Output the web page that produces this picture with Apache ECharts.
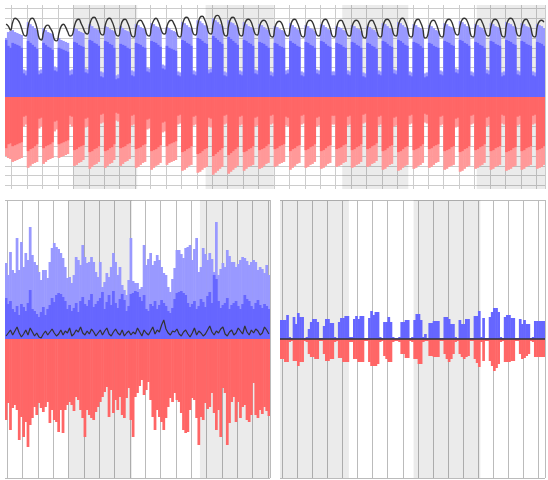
<!DOCTYPE html>
<html><head><meta charset="utf-8">
<script src="https://cdn.jsdelivr.net/npm/echarts@6/dist/echarts.min.js"></script>
<style>html,body{margin:0;padding:0;background:#fff}#c{width:548px;height:480px}</style>
</head><body><div id="c"></div>
<script>
// ---------- TOP PANEL (daily, 245 days; rows = Fri,Sat,Sun,Mon,Tue,Wed,Thu) ----------
const topBlue = [
58,52,50,55,54,53,52, 50,24,22,57,55,53,51, 49,23,24,55,53,51,50, 48,27,26,50,49,48,47,
46,22,23,56,55,53,52, 51,25,24,58,57,55,54, 52,21,20,57,56,54,53, 50,18,19,54,53,52,50,
49,22,21,55,54,53,51, 50,26,25,57,56,55,53, 51,29,28,52,50,49,48, 47,22,21,58,57,55,54,
52,23,22,60,59,57,55, 54,24,25,62,60,58,56, 54,22,21,61,59,57,55, 53,23,22,58,57,55,54,
52,24,23,56,55,54,52, 50,22,21,55,54,52,51, 50,23,24,57,55,54,52, 51,22,21,56,55,53,52,
50,24,23,57,56,54,52, 51,22,22,55,54,53,51, 50,23,22,56,55,53,52, 50,21,20,55,54,52,51,
49,23,22,57,56,54,52, 51,24,23,58,57,55,53, 52,22,21,56,55,54,52, 50,20,21,55,54,52,51,
50,23,22,57,56,55,53, 52,25,24,58,57,55,54, 52,22,21,56,55,53,52, 50,24,23,57,56,54,53,
52,21,22,58,57,56,54, 53,23,22,57,56,54,53, 52,22,21,56,55,54,52];
const topBlueLight = [
60,66,67,68,66,65,64, 63,28,27,76,74,72,70, 68,27,28,70,68,66,65, 64,31,30,60,58,57,56,
55,27,28,70,69,67,66, 65,29,28,74,72,70,69, 68,26,25,72,71,69,68, 67,22,23,72,70,68,67,
66,27,26,74,73,71,70, 69,30,29,75,74,72,71, 69,33,32,71,70,68,67, 66,26,25,76,75,73,71,
70,27,26,78,77,75,73, 72,28,29,80,78,76,74, 72,26,25,78,76,75,73, 71,27,26,76,74,72,71,
70,28,27,74,73,71,69, 68,26,25,72,71,69,68, 67,27,28,75,73,71,69, 68,26,25,73,72,70,69,
67,28,27,74,73,71,69, 68,26,26,72,71,70,68, 67,27,26,73,72,70,69, 67,25,24,72,71,69,68,
66,27,26,75,74,72,70, 69,28,27,76,75,73,71, 70,26,25,74,73,71,70, 68,24,25,73,72,70,68,
67,27,26,75,74,72,71, 70,29,28,77,76,74,72, 71,26,25,74,73,71,70, 68,28,27,75,74,72,71,
70,25,26,76,75,74,72, 71,27,26,75,74,72,71, 70,26,25,74,73,72,70];
const topRed = [
-52,-48,-47,-50,-49,-48,-47, -46,-20,-19,-55,-53,-52,-50, -48,-22,-21,-52,-50,-49,-48, -46,-25,-24,-48,-47,-46,-45,
-44,-19,-20,-54,-53,-51,-50, -49,-22,-21,-56,-55,-53,-52, -50,-18,-17,-55,-54,-52,-51, -48,-16,-17,-52,-51,-50,-48,
-47,-19,-18,-53,-52,-51,-49, -48,-23,-22,-55,-54,-53,-51, -49,-26,-25,-50,-48,-47,-46, -45,-19,-18,-56,-55,-53,-52,
-50,-20,-19,-58,-57,-55,-53, -52,-21,-22,-60,-58,-56,-54, -52,-19,-18,-59,-57,-55,-53, -51,-20,-19,-56,-55,-53,-52,
-50,-21,-20,-54,-53,-52,-50, -48,-19,-18,-53,-52,-50,-49, -48,-20,-21,-55,-53,-52,-50, -49,-19,-18,-54,-53,-51,-50,
-48,-21,-20,-55,-54,-52,-50, -49,-19,-19,-53,-52,-51,-49, -48,-20,-19,-54,-53,-51,-50, -48,-18,-17,-53,-52,-50,-49,
-47,-20,-19,-55,-54,-52,-50, -49,-21,-20,-56,-55,-53,-51, -50,-19,-18,-54,-53,-52,-50, -48,-17,-18,-53,-52,-50,-49,
-48,-20,-19,-55,-54,-53,-51, -50,-22,-21,-56,-55,-53,-52, -50,-19,-18,-54,-53,-51,-50, -48,-21,-20,-55,-54,-52,-51,
-50,-18,-19,-56,-55,-54,-52, -51,-20,-19,-55,-54,-52,-51, -50,-19,-18,-54,-53,-52,-50];
const topRedLight = [
-60,-62,-63,-66,-65,-64,-63, -62,-30,-28,-72,-70,-68,-67, -66,-32,-30,-68,-66,-64,-63, -62,-35,-33,-62,-61,-60,-59,
-58,-28,-30,-70,-69,-67,-66, -64,-31,-30,-73,-71,-69,-68, -66,-27,-26,-72,-70,-68,-67, -64,-24,-25,-70,-68,-66,-65,
-63,-29,-28,-72,-71,-69,-67, -66,-33,-32,-74,-72,-70,-69, -67,-36,-35,-69,-67,-66,-65, -64,-28,-27,-75,-74,-72,-70,
-69,-29,-28,-77,-76,-74,-72, -71,-30,-31,-79,-77,-75,-73, -71,-28,-27,-78,-76,-74,-72, -70,-29,-28,-75,-73,-71,-70,
-69,-30,-29,-73,-72,-70,-68, -67,-28,-27,-71,-70,-68,-67, -66,-29,-30,-74,-72,-70,-68, -67,-28,-27,-72,-71,-69,-68,
-66,-30,-29,-73,-72,-70,-68, -67,-28,-28,-71,-70,-69,-67, -66,-29,-28,-72,-71,-69,-68, -66,-27,-26,-71,-70,-68,-67,
-65,-29,-28,-74,-73,-71,-69, -68,-30,-29,-75,-74,-72,-70, -69,-28,-27,-73,-72,-70,-69, -67,-26,-27,-72,-71,-69,-67,
-66,-29,-28,-74,-73,-71,-70, -69,-31,-30,-76,-75,-73,-71, -70,-28,-27,-73,-72,-70,-69, -67,-30,-29,-74,-73,-71,-70,
-69,-27,-28,-75,-74,-73,-71, -70,-29,-28,-74,-73,-71,-70, -69,-28,-27,-73,-72,-71,-69];
const topLine = [
74,72,68,76,80,79,76, 70,63,62,72,79,80,77, 70,60,58,66,72,73,70, 66,58,57,65,72,74,71,
66,62,63,72,78,79,75, 70,65,64,74,80,81,78, 72,64,63,73,79,80,77, 71,63,62,72,78,79,76,
70,62,61,71,77,78,75, 70,63,62,72,78,80,77, 71,65,64,72,77,78,75, 70,62,61,73,80,81,78,
72,64,63,74,81,82,79, 73,65,64,75,82,83,80, 73,63,62,73,80,81,78, 72,63,62,72,78,79,77,
71,64,63,72,77,78,76, 70,62,61,71,76,77,75, 69,63,62,72,78,79,76, 70,62,61,71,77,78,76,
70,63,62,72,78,79,76, 70,62,61,71,77,78,75, 69,63,62,72,77,78,76, 70,61,60,71,77,78,75,
69,62,61,72,78,79,77, 71,63,62,73,79,80,77, 71,62,61,72,78,79,76, 70,60,61,71,77,78,75,
69,62,61,72,78,79,77, 71,64,63,73,79,80,78, 72,62,61,72,78,79,76, 70,63,62,72,78,79,77,
71,62,61,73,79,80,78, 72,63,62,72,78,79,76, 71,62,61,72,77,78,76];
// shaded month bands, in day units from the panel start
const topBands = [[31, 60], [91, 122], [153, 183], [214, 245]];

// ---------- BOTTOM-LEFT PANEL (121 days) ----------
const blBlueLight = [
76,64,87,69,66,101,69,97,72,86, 79,112,84,77,74,67,59,69,69,61, 77,91,96,92,90,86,81,72,61,62,
56,64,82,79,74,94,82,76,77,82, 77,67,62,77,52,57,66,62,72,86, 77,64,72,54,49,44,59,
101,58,56,56,50,52,94,74,80,86, 74,78,84,79,72,66,64,52,47,60, 71,89,89,85,81,91,92,94,79,90,
101,67,72,91,85,79,86,80,67,117, 64,70,76,72,89,83,77,77,72,75, 79,82,81,78,74,77,79,77,69,72,
70,66,74,64];
const blBlue = [
41,35,38,30,27,33,24,35,32,28, 36,49,30,28,25,22,27,32,24,30, 34,41,37,44,46,45,42,38,30,34,
28,31,36,27,38,42,35,33,39,45, 32,35,38,41,47,30,37,44,34,48, 36,31,40,45,39,28,33,
45,46,48,47,42,38,44,30,28,35, 33,38,30,34,39,36,33,28,26,31, 40,46,47,48,46,44,36,32,35,38,
30,33,40,37,32,43,47,36,64,60, 38,31,34,36,41,30,34,36,38,33, 30,35,44,40,38,33,30,36,39,34,
31,35,33,30];
const blRed = [
-81,-64,-91,-69,-66,-71,-101,-78,-98,-83, -108,-86,-79,-68,-76,-64,-69,-73,-68,-63,
-84,-71,-81,-83,-93,-71,-94,-71,-66,-63, -66,-72,-58,-61,-71,-79,-98,-71,-76,-79,
-81,-73,-68,-63,-58,-53,-48,-78,-51,-74, -61,-71,-58,-76,-79,-59,-49,-81,-98,-58,
-54,-47,-41,-56,-51,-43,-61,-78,-91,-71, -78,-83,-91,-79,-68,-59,-63,-54,-61,-63,
-74,-91,-94,-93,-71,-59,-61,-79,-106,-78, -81,-64,-70,-68,-54,-74,-91,-71,-98,-49,
-54,-106,-84,-63,-58,-83,-63,-79,-68,-66, -81,-83,-76,-44,-76,-79,-71,-75,-68,-72,
-77];
const blLine = [
3,6,9,4,8,12,6,2,5,9, 4,11,7,3,6,2,1,5,8,4, 7,10,6,3,5,9,4,8,6,11, 3,5,9,7,12,6,4,8,5,10,
7,3,6,9,4,8,11,5,3,7, 10,6,4,9,3,6,8,4,7,5, 11,7,3,9,6,4,8,12,5,9, 7,14,19,10,6,4,8,7,10,5,
3,7,9,5,2,6,11,4,8,6, 3,5,9,13,7,4,8,6,10,12, 5,3,7,9,4,6,11,8,5,13, 7,4,9,6,10,8,4,6,12,9,
5];
const blBands = [[29, 58], [89, 121]];

// ---------- BOTTOM-RIGHT PANEL (123 days) ----------
const brBlue = [
19,19,19,24, 2,1,
22,15,26,22,22, 1,2, 10,17,20,20,17, 1,1, 13,20,20,16,16, 2,1, 17,21,21,23,23, 2,2,
20,23,20,23,23, 1,1, 21,28,24,27,27, 2,1, 17,17,22,17,2, 1,1, 2,17,17,19,19, 1,2,
19,25,25,19,2, 5,1, 16,16,18,18,18, 1,1, 22,22,20,15,15, 2,1, 19,15,15,20,20, 1,1,
23,23,28,2,21, 1,1, 22,27,31,31,27, 2,1, 22,24,24,21,21, 1,1, 20,15,19,15,15, 1,2,
18,18,18,18,18];
const brRed = [
-20,-20,-23,-23, -3,-2,
-22,-22,-27,-23,-23, -2,-3, -15,-18,-18,-20,-20, -2,-2, -15,-22,-22,-20,-20, -3,-2, -19,-19,-23,-23,-23, -3,-3,
-20,-20,-23,-23,-23, -2,-2, -23,-27,-27,-27,-25, -3,-2, -17,-20,-23,-23,-3, -2,-2, -3,-15,-15,-19,-19, -2,-3,
-20,-20,-25,-25,-3, -2,-2, -17,-17,-18,-18,-18, -2,-2, -15,-20,-23,-20,-15, -3,-2, -15,-18,-20,-18,-17, -2,-2,
-20,-24,-28,-3,-22, -2,-2, -22,-27,-32,-29,-25, -3,-2, -23,-23,-23,-22,-22, -2,-2, -15,-20,-19,-17,-15, -2,-3,
-18,-18,-18,-18,-18];
const brBands = [[0, 32], [62, 93]];

// ---------- categories ----------
function days(y, m, d, n) { const out = []; for (let i = 0; i < n; i++) { out.push(new Date(Date.UTC(y, m, d + i)).toISOString().slice(0, 10)); } return out; }
const topDays = days(2016, 0, 1, topBlue.length);
const blDays = days(2015, 8, 1, blBlue.length);
const brDays = days(2013, 0, 1, brBlue.length);

const C = { blue: '#6666ff', blueL: '#9999ff', red: '#ff6666', redL: '#ff9999', line: '#333333', band: 'rgba(0,0,0,0.08)' };

function barS(xi, data, color) {
  return { type: 'bar', xAxisIndex: xi, yAxisIndex: xi, data: data,
    itemStyle: { color: color },
    barGap: '-100%', barWidth: '125%', silent: true, animation: false };
}
function bandS(xi, yi, list) {
  return { type: 'line', xAxisIndex: xi, yAxisIndex: yi, data: [], silent: true, symbol: 'none',
    markArea: { silent: true, itemStyle: { color: C.band }, data: list.map(b => [{ xAxis: b[0] }, { xAxis: b[1] }]) } };
}
function catAxis(gi, cats, mod, col) {
  return { gridIndex: gi, type: 'category', data: cats, boundaryGap: true,
    axisLine: { show: false }, axisTick: { show: false }, axisLabel: { show: false },
    splitLine: { show: true, interval: (i) => i % 7 === mod, lineStyle: { color: col, width: 1 } } };
}
function valAxisX(gi, n) { return { gridIndex: gi, type: 'value', min: 0, max: n, show: false }; }
const chart = echarts.init(document.getElementById('c'), null, { renderer: 'canvas' });
chart.setOption({
  animation: false,
  backgroundColor: '#ffffff',
  grid: [
    { left: 5, right: 3, top: 5, height: 184 },
    { left: 5, width: 265, top: 200, height: 278 },
    { left: 280, width: 265, top: 200, height: 278 },
    { left: 5, right: 3, top: 8.44, height: 177.1 }
  ],
  xAxis: [
    catAxis(0, topDays, 3, '#cccccc'),
    catAxis(1, blDays, 1, '#bbbbbb'),
    catAxis(2, brDays, 1, '#bbbbbb'),
    { gridIndex: 3, type: 'value', min: 0, max: 1, show: false },
    valAxisX(0, topDays.length),
    valAxisX(1, blDays.length),
    valAxisX(2, brDays.length)
  ],
  yAxis: [
    { gridIndex: 0, type: 'value', min: -93.5, max: 93.5, show: false },
    { gridIndex: 1, type: 'value', min: -139, max: 139, interval: 139, axisLine: { show: false }, axisTick: { show: false }, axisLabel: { show: false }, splitLine: { show: true, lineStyle: { color: '#bbbbbb' } } },
    { gridIndex: 2, type: 'value', min: -139, max: 139, interval: 139, axisLine: { show: false }, axisTick: { show: false }, axisLabel: { show: false }, splitLine: { show: true, lineStyle: { color: '#bbbbbb' } } },
    { gridIndex: 3, type: 'value', min: -90, max: 90, interval: 10, axisLine: { show: false }, axisTick: { show: false }, axisLabel: { show: false }, splitLine: { show: true, lineStyle: { color: '#cccccc' } } }
  ],
  series: [
    bandS(4, 0, topBands),
    bandS(5, 1, blBands),
    bandS(6, 2, brBands),

    barS(0, topBlueLight, C.blueL),
    barS(0, topBlue, C.blue),
    barS(0, topRedLight, C.redL),
    barS(0, topRed, C.red),
    { type: 'line', xAxisIndex: 0, yAxisIndex: 0, data: topLine, smooth: true, symbol: 'none', silent: true, lineStyle: { color: C.line, width: 1.4 } },

    barS(1, blBlueLight, C.blueL),
    barS(1, blBlue, C.blue),
    barS(1, blRed, C.red),
    { type: 'line', xAxisIndex: 1, yAxisIndex: 1, data: blLine, symbol: 'none', silent: true, lineStyle: { color: C.line, width: 1.2 } },

    Object.assign(barS(2, brBlue, C.blue), {
      markLine: { silent: true, symbol: 'none', label: { show: false }, lineStyle: { color: C.line, width: 1.5, type: 'solid' }, data: [{ yAxis: 0 }] } }),
    barS(2, brRed, C.red)
  ]
});
</script></body></html>
